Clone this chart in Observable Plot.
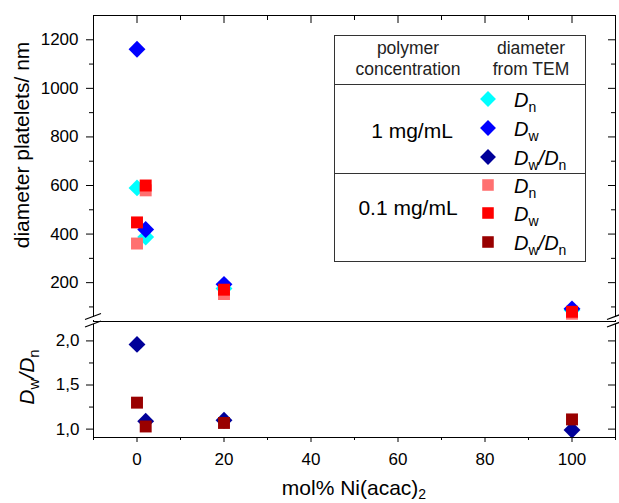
<!DOCTYPE html>
<html><head><meta charset="utf-8">
<script src="https://cdn.jsdelivr.net/npm/d3@7"></script>
<script src="https://cdn.jsdelivr.net/npm/@observablehq/plot@0.6"></script>
<style>
body{margin:0;background:#fff;}
#chart{position:relative;width:619px;height:503px;font-family:"Liberation Sans",Arial,sans-serif;}
#chart svg{position:absolute;left:0;}
</style></head><body><div id="chart"></div>
<script>
// ---- data ----
const xNi = [0, 2, 20, 100];
const dn1 = [590, 388, 176, 87];
const dw1 = [1161, 419, 193, 92];
const ratio1 = [1.96, 1.09, 1.10, 0.99];
const dn01 = [361, 580, 153, 72];
const dw01 = [448, 600, 171, 80];
const ratio01 = [1.30, 1.03, 1.07, 1.11];

const xMajorTicks = [0, 20, 40, 60, 80, 100];
const xMinorTicks = [-10, 10, 30, 50, 70, 90, 110];
const yTopMajorTicks = [200, 400, 600, 800, 1000, 1200];
const yTopMinorTicks = [100, 300, 500, 700, 900, 1100];
const yBotMajorTicks = [1.0, 1.5, 2.0];
const yBotMinorTicks = [1.25, 1.75];

const groupLabels = ["1 mg/mL", "0.1 mg/mL"];
const headerLeft = ["polymer", "concentration"];
const headerRight = ["diameter", "from TEM"];
const colors1 = ["#00ffff", "#0000ff", "#000099"];
const colors01 = ["#ff7070", "#ff0000", "#990000"];

const rows = vals => xNi.map((x, i) => ({x, v: vals[i]}));

// ---- layout ----
const W = 619, mL = 93, mR = 4;
const FW = W - mL - mR;
const topH = 321, topMT = 15;
const topFH = topH - topMT;
const botH = 182, botMB = 66;
const botFH = botH - botMB;
const font = "Liberation Sans, Arial, sans-serif";
const R = 7.6;

const chart = document.getElementById("chart");

const topPlot = Plot.plot({
  width: W, height: topH,
  marginTop: topMT, marginBottom: 0, marginLeft: mL, marginRight: mR,
  style: {fontFamily: font, fontSize: "17px", background: "transparent", overflow: "visible", color: "#000"},
  x: {domain: [-10, 110], axis: null},
  y: {domain: [40, 1300], ticks: yTopMajorTicks, tickSize: 7, tickPadding: 8, label: null,
      tickFormat: d => String(d)},
  marks: [
    Plot.tickY(yTopMinorTicks, {y: d => d, insetLeft: -4, insetRight: FW, stroke: "#000"}),
    Plot.tickY(yTopMajorTicks, {y: d => d, insetLeft: FW - 7, stroke: "#000"}),
    Plot.tickY(yTopMinorTicks, {y: d => d, insetLeft: FW - 4, stroke: "#000"}),
    Plot.tickX(xMajorTicks, {x: d => d, insetBottom: topFH - 8, stroke: "#000"}),
    Plot.tickX(xMinorTicks, {x: d => d, insetBottom: topFH - 5, stroke: "#000"}),
    Plot.dot(rows(dn1), {x: "x", y: "v", symbol: "diamond2", r: R, fill: colors1[0]}),
    Plot.dot(rows(dw1), {x: "x", y: "v", symbol: "diamond2", r: R, fill: colors1[1]}),
    Plot.dot(rows(dn01), {x: "x", y: "v", symbol: "square2", r: R, fill: colors01[0]}),
    Plot.dot(rows(dw01), {x: "x", y: "v", symbol: "square2", r: R, fill: colors01[1]}),
    Plot.frame({stroke: "#000"})
  ]
});
topPlot.style.top = "0px";
chart.appendChild(topPlot);

const botPlot = Plot.plot({
  width: W, height: botH,
  marginTop: 0, marginBottom: botMB, marginLeft: mL, marginRight: mR,
  style: {fontFamily: font, fontSize: "17px", background: "transparent", overflow: "visible", color: "#000"},
  x: {domain: [-10, 110], ticks: xMajorTicks, tickSize: 5, tickPadding: 10, label: null,
      tickFormat: d => String(d)},
  y: {domain: [0.905, 2.22], ticks: yBotMajorTicks, tickSize: 7, tickPadding: 7, label: null,
      tickFormat: d => d.toFixed(1).replace(".", ",")},
  marks: [
    Plot.tickX(xMinorTicks, {x: d => d, insetTop: botFH, insetBottom: -3, stroke: "#000"}),
    Plot.tickY(yBotMinorTicks, {y: d => d, insetLeft: -4, insetRight: FW, stroke: "#000"}),
    Plot.tickY(yBotMajorTicks, {y: d => d, insetLeft: FW - 7, stroke: "#000"}),
    Plot.tickY(yBotMinorTicks, {y: d => d, insetLeft: FW - 4, stroke: "#000"}),
    Plot.dot(rows(ratio1), {x: "x", y: "v", symbol: "diamond2", r: R, fill: colors1[2]}),
    Plot.dot(rows(ratio01), {x: "x", y: "v", symbol: "square2", r: R, fill: colors01[2]}),
    Plot.frame({stroke: "#000"})
  ]
});
botPlot.style.top = topH + "px";
chart.appendChild(botPlot);

// ---- overlay: titles, break marks, legend ----
const xs = topPlot.scale("x");
const ys = topPlot.scale("y");
const xL = xs.range[0], xR = xs.range[1];
const yBreak = ys.apply(ys.domain[0]);

const ov = d3.select(chart).append("svg")
  .attr("width", W).attr("height", 503)
  .style("top", "0px").style("pointer-events", "none")
  .attr("font-family", font);

// break marks
for (const bx of [xL, xR]) {
  ov.append("rect").attr("x", bx - 2).attr("y", yBreak - 4).attr("width", 4).attr("height", 3).attr("fill", "#fff");
  ov.append("rect").attr("x", bx - 2).attr("y", yBreak + 1).attr("width", 4).attr("height", 2).attr("fill", "#fff");
  for (const off of [-4.5, 3]) {
    ov.append("line")
      .attr("x1", bx - 8).attr("y1", yBreak + off + 3)
      .attr("x2", bx + 8).attr("y2", yBreak + off - 3)
      .attr("stroke", "#000").attr("stroke-width", 1.2);
  }
}

// axis titles
ov.append("text")
  .attr("transform", "translate(22,145) rotate(-90)")
  .attr("text-anchor", "middle").attr("dy", "0.35em")
  .attr("font-size", 21).text("diameter platelets/ nm");

function ratioText(sel, size, subSize, shift) {
  sel.append("tspan").attr("font-style", "italic").text("D");
  sel.append("tspan").attr("font-size", subSize).attr("dy", shift).text("w");
  sel.append("tspan").attr("font-style", "italic").attr("dy", -shift).text("/");
  sel.append("tspan").attr("font-style", "italic").text("D");
  sel.append("tspan").attr("font-size", subSize).attr("dy", shift).text("n");
}
const yb = ov.append("text")
  .attr("transform", "translate(27,377) rotate(-90)")
  .attr("text-anchor", "middle").attr("dy", "0.35em")
  .attr("font-size", 21);
ratioText(yb, 21, 15, 5);

const xt = ov.append("text")
  .attr("x", (xL + xR) / 2).attr("y", 495)
  .attr("text-anchor", "middle").attr("font-size", 21);
xt.append("tspan").text("mol% Ni(acac)");
xt.append("tspan").attr("font-size", 14).attr("dy", 4).text("2");

// legend
const lg = ov.append("g");
const bx0 = 334, by0 = 35, bw = 251, bh = 226;
lg.append("rect").attr("x", bx0 + 0.5).attr("y", by0 + 0.5).attr("width", bw).attr("height", bh)
  .attr("fill", "#fff").attr("stroke", "#333");
for (const ly of [84, 173]) {
  lg.append("line").attr("x1", bx0).attr("x2", bx0 + bw).attr("y1", ly + 0.5).attr("y2", ly + 0.5).attr("stroke", "#333");
}
headerLeft.forEach((t, i) => lg.append("text").attr("x", 408).attr("y", 54 + i * 21)
  .attr("text-anchor", "middle").attr("font-size", 17.5).attr("fill", "#222").text(t));
headerRight.forEach((t, i) => lg.append("text").attr("x", 531).attr("y", 54 + i * 21)
  .attr("text-anchor", "middle").attr("font-size", 17.5).attr("fill", "#222").text(t));
lg.append("text").attr("x", 412).attr("y", 138).attr("text-anchor", "middle").attr("font-size", 21).text(groupLabels[0]);
lg.append("text").attr("x", 408).attr("y", 215).attr("text-anchor", "middle").attr("font-size", 21).text(groupLabels[1]);

const rowY = [99, 128, 157, 185, 213, 242];
const symD = d3.symbol(d3.symbolDiamond2, 160)();
const symS = d3.symbol(d3.symbolSquare2, 170)();
const legColors = colors1.concat(colors01);
rowY.forEach((yy, i) => {
  lg.append("path").attr("d", i < 3 ? symD : symS).attr("transform", `translate(488,${yy})`).attr("fill", legColors[i]);
  const t = lg.append("text").attr("x", 514).attr("y", yy + 8).attr("font-size", 20);
  const k = i % 3;
  if (k === 2) ratioText(t, 20, 14, 5);
  else {
    t.append("tspan").attr("font-style", "italic").text("D");
    t.append("tspan").attr("font-size", 14).attr("dy", 5).text(k === 0 ? "n" : "w");
  }
});
</script></body></html>
